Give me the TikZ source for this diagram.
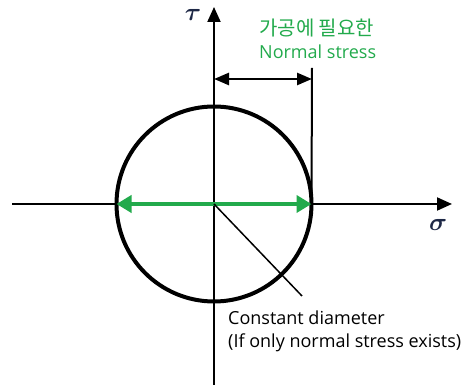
\documentclass[tikz,border=0pt]{standalone}
\usepackage{amsmath}
\usepackage{fontspec}
\setmainfont{Open Sans}
\newfontfamily\kfont{Noto Sans CJK KR}
\usetikzlibrary{arrows.meta, positioning}
\definecolor{stressgreen}{RGB}{34,170,76}
\definecolor{symcol}{RGB}{30,40,70}
\tikzset{
  axis/.style   ={line width=2pt, -{Triangle[length=15pt, width=13pt]}},
  mohr/.style   ={circle, draw, line width=4pt, minimum size=195pt,
                  inner sep=0pt, outer sep=0pt},
  dim/.style    ={line width=2.5pt, {Triangle[length=15pt, width=12pt]}-{Triangle[length=15pt, width=12pt]}},
  diam/.style   ={stressgreen, line width=4pt,
                  {Triangle[length=15pt, width=17pt]}-{Triangle[length=15pt, width=17pt]}},
  lbl/.style    ={font=\fontsize{18}{23}\selectfont, inner sep=0pt, align=left},
  sym/.style    ={font=\fontsize{30}{30}\selectfont, inner sep=0pt, text=symcol},
}
\begin{document}
\begin{tikzpicture}[x=1pt, y=-1pt]
  \useasboundingbox (0,0) rectangle (472,387);
  % Axes
  \coordinate (O)  at (214,204);
  \coordinate (xl) at (12,204);
  \coordinate (xr) at (452,204);
  \coordinate (yb) at (214,385);
  \coordinate (yt) at (214,7);
  \draw[axis] (xl) -- (xr);
  \draw[axis] (yb) -- (yt);
  \node[sym] (sigma) at (438,225) {$\boldsymbol{\sigma}$};
  \node[sym] (tau)   at (193,15)  {$\boldsymbol{\tau}$};

  % Circle and diameter
  \node[mohr] (circ) at (O) {};
  \draw[diam] (circ.west) -- (circ.east);

  % Normal stress dimension
  \coordinate (ext) at (312,68);
  \coordinate (dl)  at (214,79);
  \coordinate (dr)  at (312,79);
  \draw[line width=2pt] (ext) -- (circ.east);
  \draw[dim] (dl) -- (dr);
  \node[lbl, text=stressgreen, anchor=west] (need) at (259,39)
    {{\kfont\fontsize{20}{23}\selectfont 가공에 필요한}\\Normal stress};

  % Constant diameter note
  \coordinate (lead) at (302,296);
  \draw[line width=1.5pt] (O) -- (lead);
  \node[lbl, anchor=west] (note) at (228,331)
    {Constant diameter\\(If only normal stress exists)};
\end{tikzpicture}
\end{document}
